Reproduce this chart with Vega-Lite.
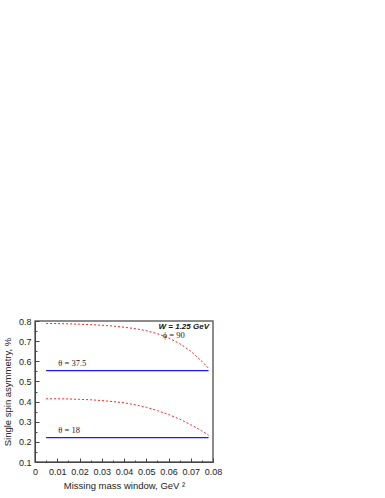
{
  "$schema": "https://vega.github.io/schema/vega-lite/v6.json",
  "width": 178,
  "height": 141,
  "autosize": "none",
  "padding": {"left": 35, "top": 321, "right": 172, "bottom": 36},
  "background": "white",
  "config": {
    "view": {"stroke": "#666", "strokeWidth": 1.5},
    "axis": {
      "labelFont": "Liberation Sans", "labelFontSize": 9, "labelColor": "#222",
      "titleFont": "Liberation Sans", "titleFontSize": 9.5, "titleFontWeight": "normal", "titleColor": "#222",
      "domainColor": "#444", "tickColor": "#444", "grid": false
    }
  },
  "datasets": {
    "curves": [
      {"x": 0.005, "y": 0.788, "s": "phi90_theta37.5"}, {"x": 0.01, "y": 0.787, "s": "phi90_theta37.5"},
      {"x": 0.015, "y": 0.786, "s": "phi90_theta37.5"}, {"x": 0.02, "y": 0.784, "s": "phi90_theta37.5"},
      {"x": 0.025, "y": 0.782, "s": "phi90_theta37.5"}, {"x": 0.03, "y": 0.779, "s": "phi90_theta37.5"},
      {"x": 0.035, "y": 0.775, "s": "phi90_theta37.5"}, {"x": 0.04, "y": 0.769, "s": "phi90_theta37.5"},
      {"x": 0.045, "y": 0.762, "s": "phi90_theta37.5"}, {"x": 0.05, "y": 0.752, "s": "phi90_theta37.5"},
      {"x": 0.055, "y": 0.737, "s": "phi90_theta37.5"}, {"x": 0.06, "y": 0.716, "s": "phi90_theta37.5"},
      {"x": 0.065, "y": 0.688, "s": "phi90_theta37.5"}, {"x": 0.07, "y": 0.65, "s": "phi90_theta37.5"},
      {"x": 0.075, "y": 0.6, "s": "phi90_theta37.5"}, {"x": 0.078, "y": 0.565, "s": "phi90_theta37.5"},
      {"x": 0.005, "y": 0.414, "s": "phi90_theta18"}, {"x": 0.01, "y": 0.414, "s": "phi90_theta18"},
      {"x": 0.015, "y": 0.413, "s": "phi90_theta18"}, {"x": 0.02, "y": 0.411, "s": "phi90_theta18"},
      {"x": 0.025, "y": 0.409, "s": "phi90_theta18"}, {"x": 0.03, "y": 0.405, "s": "phi90_theta18"},
      {"x": 0.035, "y": 0.4, "s": "phi90_theta18"}, {"x": 0.04, "y": 0.394, "s": "phi90_theta18"},
      {"x": 0.045, "y": 0.384, "s": "phi90_theta18"}, {"x": 0.05, "y": 0.372, "s": "phi90_theta18"},
      {"x": 0.055, "y": 0.355, "s": "phi90_theta18"}, {"x": 0.06, "y": 0.336, "s": "phi90_theta18"},
      {"x": 0.065, "y": 0.313, "s": "phi90_theta18"}, {"x": 0.07, "y": 0.285, "s": "phi90_theta18"},
      {"x": 0.075, "y": 0.254, "s": "phi90_theta18"}, {"x": 0.078, "y": 0.233, "s": "phi90_theta18"}
    ],
    "flat": [
      {"x": 0.005, "y": 0.554, "s": "theta37.5"}, {"x": 0.078, "y": 0.554, "s": "theta37.5"},
      {"x": 0.005, "y": 0.221, "s": "theta18"}, {"x": 0.078, "y": 0.221, "s": "theta18"}
    ],
    "thetaLabels": [
      {"x": 0.0105, "y": 0.59, "label": "θ = 37.5"},
      {"x": 0.0105, "y": 0.261, "label": "θ = 18"}
    ],
    "wLabel": [{"x": 0.0782, "y": 0.772, "label": "W = 1.25 GeV"}],
    "phiLabel": [{"x": 0.0574, "y": 0.729, "label": "ϕ = 90"}]
  },
  "layer": [
    {
      "data": {"name": "curves"},
      "mark": {"type": "line", "color": "#ff2020", "strokeWidth": 1, "strokeDash": [2, 2]},
      "encoding": {
        "x": {"field": "x", "type": "quantitative",
          "scale": {"domain": [0, 0.08], "nice": false, "zero": false},
          "axis": {"title": "Missing mass window, GeV ²", "values": [0, 0.01, 0.02, 0.03, 0.04, 0.05, 0.06, 0.07, 0.08],
            "format": "~g", "tickSize": -4, "labelPadding": 9, "titlePadding": 4, "labelFlush": false}},
        "y": {"field": "y", "type": "quantitative",
          "scale": {"domain": [0.1, 0.8], "nice": false, "zero": false},
          "axis": {"title": "Single spin asymmetry, %", "values": [0.1, 0.2, 0.3, 0.4, 0.5, 0.6, 0.7, 0.8],
            "format": ".1f", "tickSize": -4, "labelPadding": 8, "titlePadding": 6, "labelFlush": false}},
        "detail": {"field": "s"}
      }
    },
    {
      "data": {"name": "flat"},
      "mark": {"type": "line", "color": "#1a1aff", "strokeWidth": 1.3},
      "encoding": {
        "x": {"field": "x", "type": "quantitative", "axis": null},
        "y": {"field": "y", "type": "quantitative", "axis": null},
        "detail": {"field": "s"}
      }
    },
    {
      "data": {"name": "thetaLabels"},
      "mark": {"type": "text", "font": "Liberation Serif", "fontSize": 8.5, "align": "left", "baseline": "middle", "color": "#222"},
      "encoding": {
        "x": {"field": "x", "type": "quantitative",
          "axis": {"orient": "bottom", "title": null, "labels": false, "domain": false,
            "values": [0.005, 0.015, 0.025, 0.035, 0.045, 0.055, 0.065, 0.075], "tickSize": -2}},
        "y": {"field": "y", "type": "quantitative",
          "axis": {"orient": "left", "title": null, "labels": false, "domain": false,
            "values": [0.15, 0.25, 0.35, 0.45, 0.55, 0.65, 0.75], "tickSize": -2}},
        "text": {"field": "label"}
      }
    },
    {
      "data": {"name": "wLabel"},
      "mark": {"type": "text", "font": "Liberation Sans", "fontSize": 8, "fontWeight": "bold", "fontStyle": "italic", "align": "right", "baseline": "middle", "color": "#111"},
      "encoding": {
        "x": {"field": "x", "type": "quantitative", "axis": null},
        "y": {"field": "y", "type": "quantitative", "axis": null},
        "text": {"field": "label"}
      }
    },
    {
      "data": {"name": "phiLabel"},
      "mark": {"type": "text", "font": "Liberation Serif", "fontSize": 8.5, "align": "left", "baseline": "middle", "color": "#222"},
      "encoding": {
        "x": {"field": "x", "type": "quantitative", "axis": null},
        "y": {"field": "y", "type": "quantitative", "axis": null},
        "text": {"field": "label"}
      }
    }
  ],
  "resolve": {"axis": {"x": "independent", "y": "independent"}}
}
